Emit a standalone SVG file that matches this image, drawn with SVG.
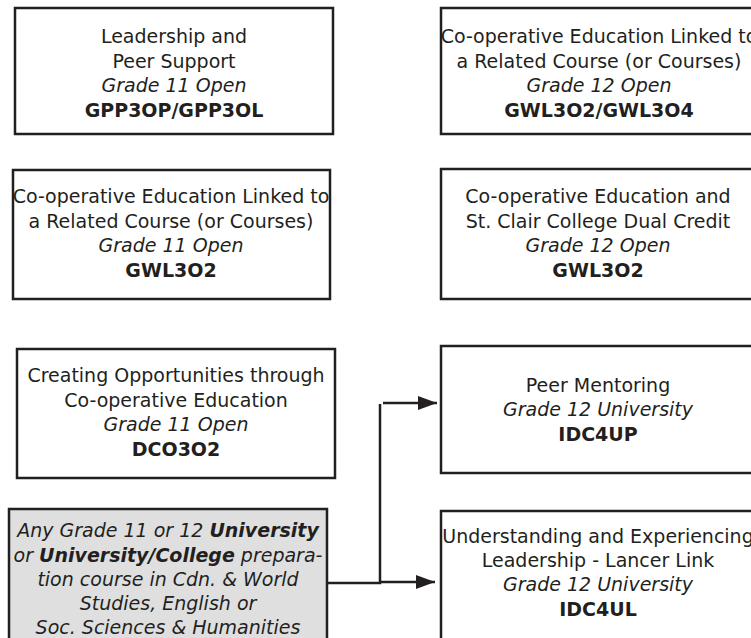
<svg xmlns="http://www.w3.org/2000/svg" width="751" height="638" viewBox="0 0 751 638">
<defs>
<style>
.box{fill:#fff;stroke:#231f20;stroke-width:2.5}
.gray{fill:#dfdfe0;stroke:#231f20;stroke-width:2.5}
text{font-family:"DejaVu Sans",Verdana,sans-serif;font-size:19px;fill:#231f20;text-anchor:middle}
.i{font-style:italic}
.b{font-weight:bold}
.c{fill:none;stroke:#231f20;stroke-width:2.5}
</style>
<marker id="ah" markerWidth="20" markerHeight="14" refX="19" refY="7" orient="auto" markerUnits="userSpaceOnUse">
<path d="M0,0 L19,7 L0,14 Z" fill="#231f20"/>
</marker>
</defs>
<g id="n1">
<rect class="box" x="15" y="8" width="318" height="126"/>
<text x="174" y="43">Leadership and</text>
<text x="174" y="68">Peer Support</text>
<text x="174" y="92" class="i">Grade 11 Open</text>
<text x="174" y="117" class="b">GPP3OP/GPP3OL</text>
</g>
<g id="n2">
<rect class="box" x="441" y="8" width="330" height="126"/>
<text x="599" y="43">Co-operative Education Linked to</text>
<text x="599" y="68">a Related Course (or Courses)</text>
<text x="599" y="92" class="i">Grade 12 Open</text>
<text x="599" y="117" class="b">GWL3O2/GWL3O4</text>
</g>
<g id="n3">
<rect class="box" x="13" y="170" width="317" height="129"/>
<text x="171" y="203">Co-operative Education Linked to</text>
<text x="171" y="228">a Related Course (or Courses)</text>
<text x="171" y="252" class="i">Grade 11 Open</text>
<text x="171" y="277" class="b">GWL3O2</text>
</g>
<g id="n4">
<rect class="box" x="441" y="169" width="330" height="130"/>
<text x="598" y="203">Co-operative Education and</text>
<text x="598" y="228">St. Clair College Dual Credit</text>
<text x="598" y="252" class="i">Grade 12 Open</text>
<text x="598" y="277" class="b">GWL3O2</text>
</g>
<g id="n5">
<rect class="box" x="17" y="349" width="318" height="129"/>
<text x="176" y="382">Creating Opportunities through</text>
<text x="176" y="407">Co-operative Education</text>
<text x="176" y="431" class="i">Grade 11 Open</text>
<text x="176" y="456" class="b">DCO3O2</text>
</g>
<g id="n6">
<rect class="gray" x="9" y="509" width="318" height="140"/>
<text x="168" y="537" class="i">Any Grade 11 or 12 <tspan class="b">University</tspan></text>
<text x="168" y="562" class="i">or <tspan class="b">University/College</tspan> prepara-</text>
<text x="168" y="586" class="i">tion course in Cdn. &amp; World</text>
<text x="168" y="610" class="i">Studies, English or</text>
<text x="168" y="634" class="i">Soc. Sciences &amp; Humanities</text>
</g>
<g id="n7">
<rect class="box" x="441" y="346" width="330" height="127"/>
<text x="598" y="392">Peer Mentoring</text>
<text x="598" y="416" class="i">Grade 12 University</text>
<text x="598" y="441" class="b">IDC4UP</text>
</g>
<g id="n8">
<rect class="box" x="441" y="511" width="330" height="140"/>
<text x="598" y="543">Understanding and Experiencing</text>
<text x="598" y="567">Leadership - Lancer Link</text>
<text x="598" y="591" class="i">Grade 12 University</text>
<text x="598" y="616" class="b">IDC4UL</text>
</g>
<g id="connectors">
<polyline class="c" points="327,583 380,583 380,404"/>
<line class="c" x1="383" y1="403" x2="437" y2="403" marker-end="url(#ah)"/>
<line class="c" x1="380" y1="582" x2="435" y2="582" marker-end="url(#ah)"/>
</g>
</svg>
